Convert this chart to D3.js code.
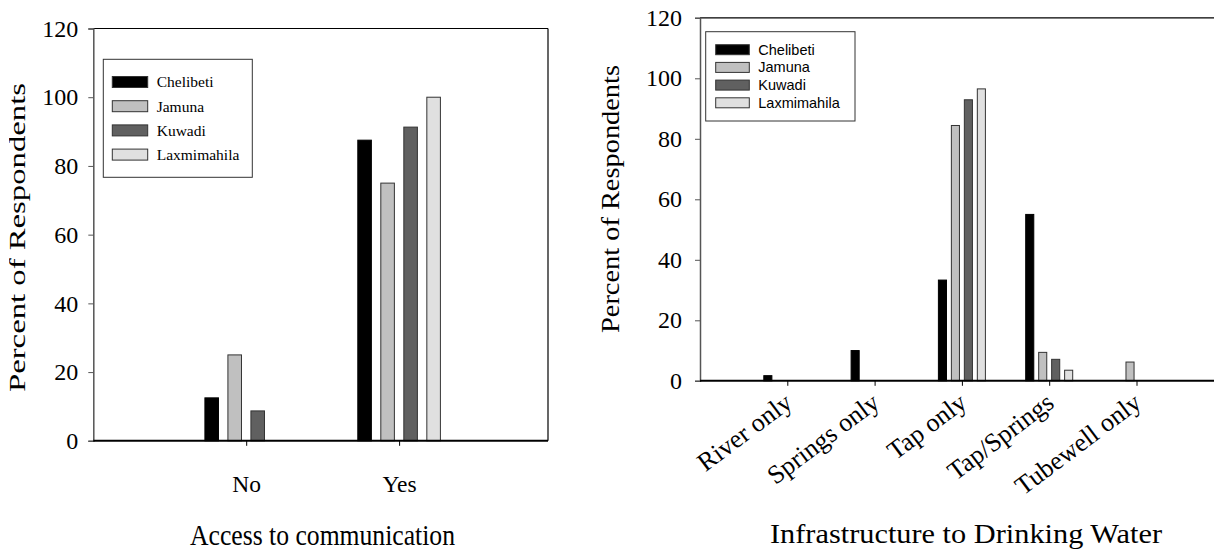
<!DOCTYPE html>
<html><head><meta charset="utf-8">
<script src="https://cdn.jsdelivr.net/npm/d3@7"></script>
<style>body{margin:0;background:#fff}svg{display:block}</style>
</head><body>
<svg id="c" width="1214" height="552"></svg>
<script>
const series = ["Chelibeti","Jamuna","Kuwadi","Laxmimahila"];
const colors = ["#000000","#c0c0c0","#606060","#e0e0e0"];
const yTicks = [0,20,40,60,80,100,120];

const commCategories = ["No","Yes"];
const commChelibeti = [12.5, 87.5];
const commJamuna = [25, 75];
const commKuwadi = [8.7, 91.3];
const commLaxmimahila = [0, 100];

const waterCategories = ["River only","Springs only","Tap only","Tap/Springs","Tubewell only"];
const waterChelibeti = [1.7, 10, 33.3, 55, 0];
const waterJamuna = [0, 0, 84.4, 9.4, 6.2];
const waterKuwadi = [0, 0, 92.9, 7.1, 0];
const waterLaxmimahila = [0, 0, 96.5, 3.5, 0];

const svg = d3.select("#c");
const serif = "'Liberation Serif','Times New Roman',serif";
const sans = "'Liberation Sans',Arial,sans-serif";

svg.append("defs").append("clipPath").attr("id","clipL")
  .append("rect").attr("x",9).attr("y",0).attr("width",100).attr("height",552);

function drawChart(o){
  const g = svg.append("g");
  const x = d3.scalePoint().domain(o.categories).range([o.left, o.xEnd]).padding(1);
  const y = d3.scaleLinear().domain([0,120]).range([o.bottom, o.top]);
  const xs = d3.scaleBand().domain(series).range([-o.groupHalf, o.groupHalf]).paddingInner(o.pad);
  const data = [];
  o.categories.forEach((c,i)=>{
    o.values.forEach((arr,j)=>{ data.push({c, s:series[j], v:arr[i], col:colors[j]}); });
  });
  // frame
  g.append("line").attr("x1",o.left).attr("x2",Math.min(o.right,1214)).attr("y1",o.top).attr("y2",o.top)
    .attr("stroke","#000").attr("stroke-width",1.2);
  if (o.right < 1214) g.append("line").attr("x1",o.right).attr("x2",o.right).attr("y1",o.top).attr("y2",o.bottom)
    .attr("stroke","#000").attr("stroke-width",1.2);
  // bars
  g.selectAll("rect.bar").data(data.filter(d=>d.v>0)).join("rect").attr("class","bar")
    .attr("x", d=>x(d.c)+xs(d.s)).attr("width", xs.bandwidth())
    .attr("y", d=>y(d.v)).attr("height", d=>y(0)-y(d.v))
    .attr("fill", d=>d.col).attr("stroke", d=>d.col==="#000000"?"#000":"#333").attr("stroke-width",1);
  // y axis
  const ya = g.append("g").attr("transform",`translate(${o.left},0)`)
    .call(d3.axisLeft(y).tickValues(yTicks).tickSize(5).tickPadding(o.tickPad).tickFormat(d3.format("d")));
  ya.attr("font-family",serif).attr("font-size",o.tickFs);
  ya.select(".domain").attr("stroke","#555").attr("stroke-width",1.5);
  ya.selectAll(".tick line").attr("stroke","#555");
  ya.selectAll("text").attr("fill","#000");
  // x axis
  const xa = g.append("g").attr("transform",`translate(0,${o.bottom})`)
    .call(d3.axisBottom(x).tickSize(5).tickSizeOuter(0));
  xa.attr("font-family",serif).attr("font-size",o.xFs);
  xa.select(".domain").remove();
  g.append("line").attr("x1",o.left).attr("x2",Math.min(o.right,1214)).attr("y1",o.bottom).attr("y2",o.bottom)
    .attr("stroke","#000").attr("stroke-width",2);
  xa.selectAll(".tick line").attr("stroke","#000");
  const xt = xa.selectAll("text").attr("fill","#000");
  if (o.rotate) {
    xt.attr("text-anchor","end").attr("dy",null)
      .attr("transform", d=>`translate(${o.rotDx},${o.rotDy}) rotate(-37)`).attr("y",0).attr("x",0);
  } else {
    xt.attr("dy",null).attr("y", o.xLabelY - o.bottom);
  }
  // axis titles
  g.append("text").attr("x",o.xTitleX).attr("y",o.xTitleY).attr("text-anchor","middle")
    .attr("font-family",serif).attr("font-size",o.xTitleFs)
    .attr("textLength",o.xTitleLen).attr("lengthAdjust","spacingAndGlyphs").text(o.xTitle);
  const ylg = g.append("g");
  ylg.append("text").attr("transform",`translate(${o.yTitleX},${o.yTitleY}) rotate(-90)`)
    .attr("text-anchor","middle").attr("font-family",serif).attr("font-size",o.yTitleFs)
    .attr("textLength",o.yTitleLen).attr("lengthAdjust","spacingAndGlyphs").text("Percent of Respondents");
  // legend
  const L = o.legend;
  const lg = g.append("g");
  lg.append("rect").attr("x",L.x).attr("y",L.y).attr("width",L.w).attr("height",L.h)
    .attr("fill","#fff").attr("stroke","#333").attr("stroke-width",1);
  series.forEach((s,i)=>{
    const cy = L.row0 + i*L.step;
    lg.append("rect").attr("x",L.sx).attr("y",cy-L.sh/2).attr("width",L.sw).attr("height",L.sh)
      .attr("fill",colors[i]).attr("stroke","#333").attr("stroke-width",1);
    lg.append("text").attr("x",L.tx).attr("y",cy).attr("dy","0.35em")
      .attr("font-family",L.font).attr("font-size",L.fs).text(s);
  });
  return ylg;
}

const yl1 = drawChart({
  categories: commCategories,
  values: [commChelibeti, commJamuna, commKuwadi, commLaxmimahila],
  left: 93.3, right: 548, xEnd: 552, top: 28.5, bottom: 440.8,
  groupHalf: 41.3, pad: 0.41, tickPad: 10, tickFs: 24, xFs: 23.5, xLabelY: 492,
  xTitle: "Access to communication", xTitleX: 322.5, xTitleY: 545, xTitleFs: 30, xTitleLen: 265,
  yTitleX: 25, yTitleY: 237.5, yTitleFs: 23, yTitleLen: 309,
  legend: {x:103.3, y:59.3, w:149, h:118, sx:112.3, sw:35.4, sh:11, row0:82, step:24.2, tx:156.7, fs:15.5, font:serif}
});
yl1.attr("clip-path","url(#clipL)");

drawChart({
  categories: waterCategories,
  values: [waterChelibeti, waterJamuna, waterKuwadi, waterLaxmimahila],
  left: 700, right: 1300, xEnd: 1223.8, top: 17.8, bottom: 380.8,
  groupHalf: 23.5, pad: 0.377, tickPad: 13, tickFs: 24, xFs: 26, rotate: true, rotDx: 6, rotDy: 25,
  xTitle: "Infrastructure to Drinking Water", xTitleX: 966, xTitleY: 542.7, xTitleFs: 28, xTitleLen: 392,
  yTitleX: 619, yTitleY: 199, yTitleFs: 26, yTitleLen: 268,
  legend: {x:705.7, y:31.7, w:149.3, h:89.3, sx:715.7, sw:33.6, sh:10, row0:49.7, step:17.7, tx:758.3, fs:14.5, font:sans}
});
</script>
</body></html>
